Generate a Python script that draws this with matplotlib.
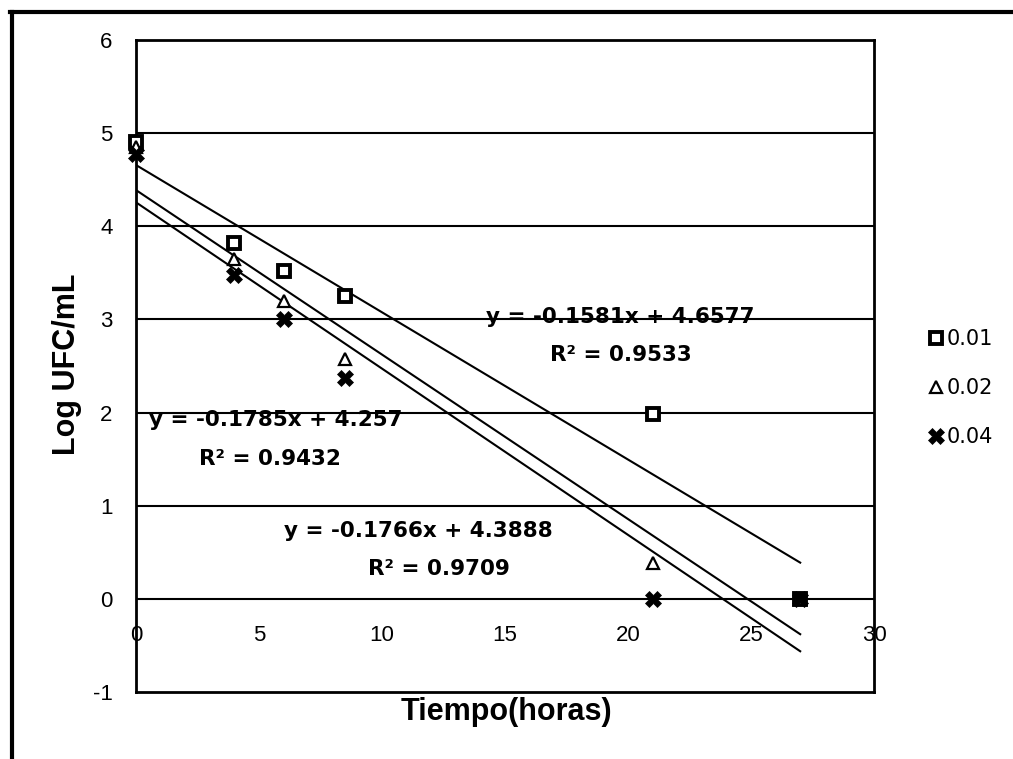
import matplotlib.pyplot as plt
from matplotlib.lines import Line2D
import numpy as np

plt.rcParams['axes.unicode_minus'] = False

# data
tiempo = [0, 4, 6, 8.5, 21, 27]
log_001 = [4.90, 3.82, 3.52, 3.25, 1.98, 0.0]
log_002 = [4.85, 3.65, 3.20, 2.58, 0.38, 0.0]
log_004 = [4.78, 3.48, 3.00, 2.37, 0.0, 0.0]
series_labels = ['0.01', '0.02', '0.04']

# trendlines (slope, intercept, r2) as printed on the chart
slopes = [-0.1581, -0.1766, -0.1785]
intercepts = [4.6577, 4.3888, 4.257]
r2_values = [0.9533, 0.9709, 0.9432]

fig = plt.figure(figsize=(10.13, 7.59), dpi=100)
ax = fig.add_axes([136 / 1013, 1 - 692 / 759, 738 / 1013, 652 / 759])

ax.set_xlim(0, 30)
ax.set_ylim(-1, 6)
ax.set_yticks(range(-1, 7))
ax.set_xticks(range(0, 31, 5))
for yv in range(0, 6):
    ax.axhline(yv, color='black', lw=1.5, zorder=1)

for sp in ax.spines.values():
    sp.set_linewidth(2)

# x labels sit just under the y=0 line, as in Excel
ax.tick_params(axis='y', length=0, pad=17, labelsize=16)
ax.tick_params(axis='x', length=0, pad=-48, labelsize=16)
for lab in ax.get_xticklabels() + ax.get_yticklabels():
    lab.set_family('Liberation Sans')

# trendlines
xfit = np.array([0, 27])
for m, b in zip(slopes, intercepts):
    ax.plot(xfit, m * xfit + b, color='black', lw=1.5, zorder=2)

h1, = ax.plot(tiempo, log_001, ls='none', marker='s', ms=9, mfc='white',
              mec='black', mew=2.8, zorder=3, label=series_labels[0],
              clip_on=False)
h2, = ax.plot(tiempo, log_002, ls='none', marker='^', ms=8, mfc='white',
              mec='black', mew=1.6, zorder=4, label=series_labels[1],
              clip_on=False)
h3, = ax.plot(tiempo, log_004, ls='none', marker='X', ms=12, mfc='black',
              mec='black', mew=0.5, zorder=5, label=series_labels[2],
              clip_on=False)

# equation labels
eq_pos = [((19.67, 3.03), (19.71, 2.62)),
          ((11.46, 0.73), (12.32, 0.32)),
          ((5.69, 1.92), (5.45, 1.50))]
for (m, b, r2), (p1, p2) in zip(zip(slopes, intercepts, r2_values), eq_pos):
    ax.text(p1[0], p1[1], f"y = {m}x + {b}", ha='center', va='center',
            fontsize=15.5, fontweight='bold', family='DejaVu Sans', zorder=6)
    ax.text(p2[0], p2[1], f"R² = {r2}", ha='center', va='center',
            fontsize=15.5, fontweight='bold', family='DejaVu Sans', zorder=6)

leg = ax.legend(handles=[h1, h2, h3], loc='center left',
                bbox_to_anchor=(928 / 1013, 1 - 388 / 759),
                bbox_transform=fig.transFigure, frameon=False,
                prop={'family': 'DejaVu Sans', 'size': 15},
                handlelength=0.8, handletextpad=0.1, labelspacing=1.4,
                borderpad=0, borderaxespad=0)

fig.text(67 / 1013, 1 - 364 / 759, 'Log UFC/mL', rotation=90, ha='center',
         va='center', fontsize=22, fontweight='bold', family='Liberation Sans')
fig.text(506 / 1013, 1 - 712 / 759, 'Tiempo(horas)', ha='center',
         va='center', fontsize=22, fontweight='bold', family='Liberation Sans')

# outer frame of the scanned figure
fig.add_artist(Line2D([10 / 1013, 1], [1 - 12 / 759, 1 - 12 / 759],
                      color='black', lw=3, transform=fig.transFigure))
fig.add_artist(Line2D([12 / 1013, 12 / 1013], [0, 1 - 12 / 759],
                      color='black', lw=3, transform=fig.transFigure))

fig.savefig('out.png', dpi=100)
